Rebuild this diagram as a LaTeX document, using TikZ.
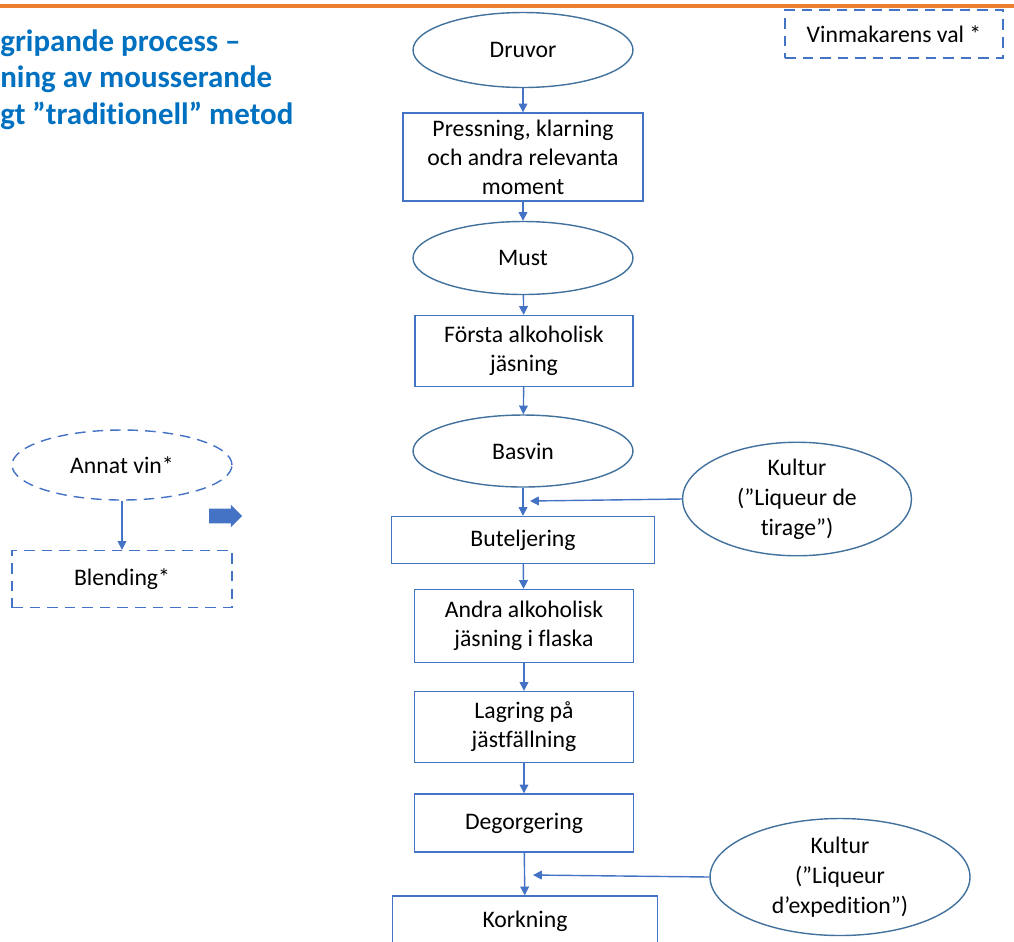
\documentclass[tikz,border=0pt]{standalone}
\usepackage{fontspec}
\setmainfont[Ligatures=NoCommon]{Carlito}
\usepackage{xcolor}
\usetikzlibrary{positioning,shapes.geometric,shapes.arrows,arrows.meta}
\definecolor{boxblue}{HTML}{4472C4}
\definecolor{rimblue}{HTML}{41719C}
\definecolor{titleblue}{HTML}{0070C0}
\definecolor{barorange}{HTML}{ED7D31}
\tikzset{
  stepbox/.style={draw=boxblue, rectangle, thick, align=center, inner sep=2pt, font=\fontsize{13.5}{16.5}\selectfont},
  stepoval/.style={draw=rimblue, ellipse, thick, align=center, inner sep=0pt, font=\fontsize{13.5}{17}\selectfont},
  choice/.style={dash pattern=on 6pt off 4pt},
  flow/.style={draw=boxblue, thick, -{Triangle[length=5pt,width=5pt]}}
}
\begin{document}
\begin{tikzpicture}[x=0.02cm,y=-0.02cm]
\useasboundingbox (0,0) rectangle (1014,941);
\clip (0,0) rectangle (1014,941);
\draw [barorange, line width=2.8pt](0,6)--(1014,6);
\node [anchor=north west, inner sep=0pt, align=left, text=titleblue, font=\fontsize{17.6}{21}\selectfont\bfseries] (title) at (0,29) {gripande process –\\ning av mousserande\\gt ”traditionell” metod};
\node [stepbox, choice, minimum width=4.36cm, minimum height=0.96cm] (vinval) at (894,34) {Vinmakarens val *};
\node [stepoval, minimum width=4.4cm, minimum height=1.5cm] (druvor) at (523,50) {Druvor};
\node [stepbox, minimum width=4.8cm, minimum height=1.76cm] (press) at (523,157) {Pressning, klarning\\och andra relevanta\\moment};
\node [stepoval, minimum width=4.4cm, minimum height=1.46cm] (must) at (523,258) {Must};
\node [stepbox, minimum width=4.36cm, minimum height=1.42cm] (forsta) at (524,351) {Första alkoholisk\\jäsning};
\node [stepoval, minimum width=4.4cm, minimum height=1.44cm] (basvin) at (523,451) {Basvin};
\node [stepbox, minimum width=5.26cm, minimum height=0.94cm] (butelj) at (523,540) {Buteljering};
\node [stepbox, minimum width=4.38cm, minimum height=1.46cm] (andra) at (524,626) {Andra alkoholisk\\jäsning i flaska};
\node [stepbox, minimum width=4.38cm, minimum height=1.42cm] (lagring) at (524,727) {Lagring på\\jästfällning};
\node [stepbox, minimum width=4.38cm, minimum height=1.16cm] (degorg) at (524,823) {Degorgering};
\node [stepbox, minimum width=5.3cm, minimum height=1.0cm] (kork) at (525,921) {Korkning};
\node [stepoval, minimum width=4.58cm, minimum height=2.16cm] (kultur1) at (797,499) {Kultur\\(”Liqueur de\\tirage”)};
\node [stepoval, minimum width=5.2cm, minimum height=2.34cm] (kultur2) at (840,877) {Kultur\\(”Liqueur\\d’expedition”)};
\node [stepoval, choice, draw=boxblue, minimum width=4.4cm, minimum height=1.4cm] (annat) at (122,465) {Annat vin*};
\node [stepbox, choice, minimum width=4.4cm, minimum height=1.14cm] (blend) at (122,579) {Blending*};
\node [single arrow, fill=boxblue, draw=none, minimum height=0.66cm, inner xsep=0pt, inner ysep=4pt, single arrow head extend=2.3pt] (push) at (222,516) {};
\coordinate (tirage) at (530,501);
\coordinate (dosage) at (533,875);
\draw [flow](druvor)--(press);
\draw [flow](press)--(must);
\draw [flow](must)--(forsta);
\draw [flow](forsta)--(basvin);
\draw [flow](basvin)--(butelj);
\draw [flow](butelj)--(andra);
\draw [flow](andra)--(lagring);
\draw [flow](lagring)--(degorg);
\draw [flow](degorg)--(kork);
\draw [flow](kultur1.west)--(tirage);
\draw [flow](kultur2.west)--(dosage);
\draw [flow](annat)--(blend);
\end{tikzpicture}
\end{document}
